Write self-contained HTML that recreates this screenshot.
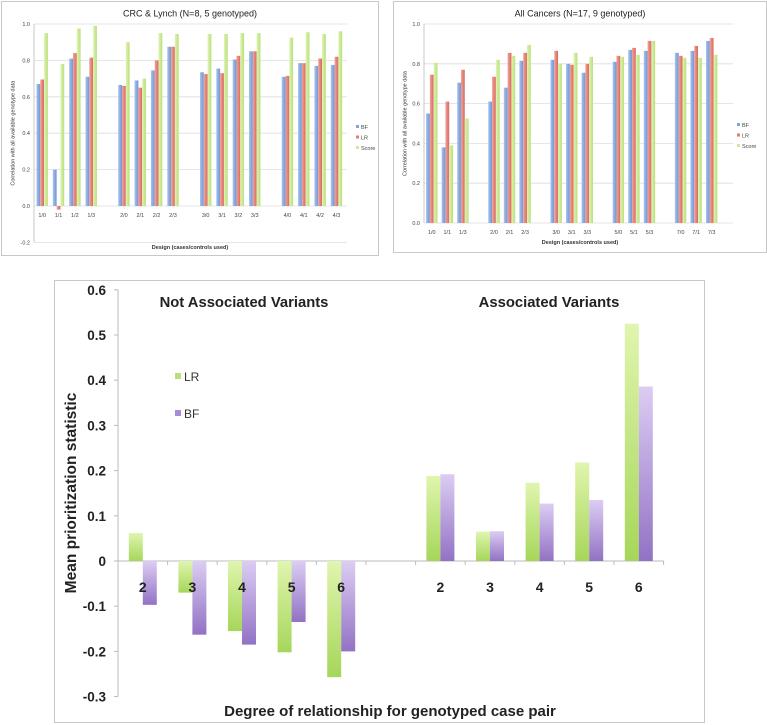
<!DOCTYPE html>
<html><head><meta charset="utf-8"><style>
body{margin:0;background:#fff;width:767px;height:725px;overflow:hidden;font-family:"Liberation Sans",sans-serif}
svg{position:absolute;left:0;top:0}
</style></head><body>
<svg id="s" width="767" height="725" xmlns="http://www.w3.org/2000/svg">
<defs>
<linearGradient id="gBF" x1="0" y1="0" x2="1" y2="0"><stop offset="0" stop-color="#a9c3ec"/><stop offset="1" stop-color="#6f95d6"/></linearGradient>
<linearGradient id="gLR" x1="0" y1="0" x2="1" y2="0"><stop offset="0" stop-color="#f1a49b"/><stop offset="1" stop-color="#d9685e"/></linearGradient>
<linearGradient id="gSC" x1="0" y1="0" x2="1" y2="0"><stop offset="0" stop-color="#dff4b4"/><stop offset="1" stop-color="#b9df7a"/></linearGradient>
<linearGradient id="gG" x1="0" y1="0" x2="0" y2="1"><stop offset="0" stop-color="#e0f5ae"/><stop offset="1" stop-color="#a6d65a"/></linearGradient>
<linearGradient id="gP" x1="0" y1="0" x2="0" y2="1"><stop offset="0" stop-color="#dccdf3"/><stop offset="1" stop-color="#9272c4"/></linearGradient>
</defs>
</svg>
<script>
// ---- Chart 1: CRC & Lynch ----
const c1Cats=["1/0","1/1","1/2","1/3","","2/0","2/1","2/2","2/3","","3/0","3/1","3/2","3/3","","4/0","4/1","4/2","4/3"];
const c1BF=[0.67,0.20,0.81,0.71,null,0.665,0.69,0.745,0.875,null,0.735,0.755,0.805,0.85,null,0.71,0.785,0.77,0.775];
const c1LR=[0.695,-0.02,0.84,0.815,null,0.66,0.65,0.80,0.875,null,0.725,0.73,0.825,0.85,null,0.715,0.785,0.81,0.82];
const c1SC=[0.95,0.78,0.975,0.99,null,0.90,0.70,0.95,0.945,null,0.945,0.945,0.95,0.95,null,0.925,0.955,0.945,0.96];
const c1Ticks=[-0.2,0,0.2,0.4,0.6,0.8,1.0];
// ---- Chart 2: All Cancers ----
const c2Cats=["1/0","1/1","1/3","","2/0","2/1","2/3","","3/0","3/1","3/3","","5/0","5/1","5/3","","7/0","7/1","7/3"];
const c2BF=[0.55,0.38,0.705,null,0.61,0.68,0.815,null,0.82,0.80,0.755,null,0.81,0.87,0.865,null,0.855,0.865,0.915];
const c2LR=[0.745,0.61,0.77,null,0.735,0.855,0.855,null,0.865,0.795,0.80,null,0.84,0.88,0.915,null,0.84,0.89,0.93];
const c2SC=[0.805,0.39,0.525,null,0.82,0.84,0.895,null,0.80,0.855,0.835,null,0.835,0.845,0.915,null,0.83,0.83,0.845];
const c2Ticks=[0,0.2,0.4,0.6,0.8,1.0];
// ---- Chart 3: Mean prioritization ----
const c3Cats=["2","3","4","5","6","","2","3","4","5","6"];
const c3LR=[0.062,-0.07,-0.155,-0.202,-0.257,null,0.188,0.065,0.173,0.218,0.525];
const c3BF=[-0.097,-0.163,-0.185,-0.135,-0.2,null,0.192,0.066,0.127,0.135,0.386];
const c3Ticks=[-0.3,-0.2,-0.1,0,0.1,0.2,0.3,0.4,0.5,0.6];

const NS="http://www.w3.org/2000/svg";
const svg=document.getElementById('s');
function mk(tag,attrs,parent,text){const e=document.createElementNS(NS,tag);for(const k in attrs)e.setAttribute(k,attrs[k]);if(text!==undefined)e.textContent=text;(parent||svg).appendChild(e);return e;}
function fmt1(v){return v.toFixed(1);}

function smallChart(o){
  const g=mk('g',{});
  
  
  const fr=mk('rect',{x:o.bx,y:o.by,width:o.bw,height:o.bh,fill:'#fff',stroke:'#c8c8c8','stroke-width':1},g);
  
  
  const y=v=>o.y0-(v*(o.y0-o.y1));
  const sw=o.slot;
  o.ticks.forEach(t=>{
    const gl=mk('line',{x1:o.px,x2:o.gx2,y1:y(t),y2:y(t),stroke:'#dedede','stroke-width':0.8},g);
    
    
    const tl=mk('text',{x:o.px-4,y:y(t)+2,'font-size':5.5,'text-anchor':'end',fill:'#444'},g,fmt1(t));
    
    
  });
  mk('line',{x1:o.px,x2:o.px,y1:y(o.ticks[o.ticks.length-1]),y2:y(o.ticks[0]),stroke:'#bbb','stroke-width':0.8},g);
  const bw=o.barW;
  const series=[[o.bf,'url(#gBF)','bar-bf'],[o.lr,'url(#gLR)','bar-lr'],[o.sc,'url(#gSC)','bar-score']];
  o.cats.forEach((c,i)=>{
    const cx=o.px+sw*(i+0.5);
    if(c){
      const cl=mk('text',{x:cx,y:o.labY,'font-size':5.5,'text-anchor':'middle',fill:'#444'},g,c);
      
      
    }
    series.forEach((s,j)=>{
      const v=s[0][i]; if(v===null)return;
      const x=cx-1.5*bw+j*bw;
      const top=Math.min(y(v),y(0)),h=Math.abs(y(v)-y(0));
      const r=mk('rect',{x:x,y:top,width:bw,height:Math.max(h,0.5),fill:s[1]},g);
      
      
    });
  });
  const tt=mk('text',{x:o.titleX,y:o.by+15,'font-size':9,'text-anchor':'middle',fill:'#222'},g,o.title);
  
  
  const xt=mk('text',{x:o.titleX,y:o.xtY,'font-size':5.5,'font-weight':'bold','text-anchor':'middle',fill:'#333'},g,'Design (cases/controls used)');
  
  
  const yt=mk('text',{x:0,y:0,'font-size':5.5,'text-anchor':'middle',fill:'#333',transform:`translate(${o.bx+13},${(y(o.ticks[o.ticks.length-1])+y(o.ticks[0]))/2}) rotate(-90)`},g,'Correlation with all available genotype data');
  
  
  [['BF','#7fa3dc'],['LR','#e27a70'],['Score','#cde99a']].forEach((l,k)=>{
    const ly=o.legY+k*10.5;
    const sq=mk('rect',{x:o.legX,y:ly-3,width:3,height:3,fill:l[1]},g);
    
    
    const lt=mk('text',{x:o.legX+5,y:ly+1,'font-size':5.5,fill:'#444'},g,l[0]);
    
    
  });
}
smallChart({name:'crc-lynch-chart',bx:1.5,by:1.5,bw:377,bh:254,px:34,gx2:347,y0:206,y1:24,slot:16.35,barW:3.8,
  cats:c1Cats,bf:c1BF,lr:c1LR,sc:c1SC,ticks:c1Ticks,labY:217,xtY:249,titleX:190,legX:356,legY:128,
  title:'CRC & Lynch (N=8, 5 genotyped)'});
smallChart({name:'all-cancers-chart',bx:393.5,by:1.5,bw:373,bh:251,px:424,gx2:733,y0:223,y1:24,slot:15.55,barW:3.8,
  cats:c2Cats,bf:c2BF,lr:c2LR,sc:c2SC,ticks:c2Ticks,labY:234,xtY:244,titleX:580,legX:737,legY:126,
  title:'All Cancers (N=17, 9 genotyped)'});

// ---- Big chart ----
const G=mk('g',{});


const bfr=mk('rect',{x:54.5,y:280.5,width:650,height:442,fill:'#fff',stroke:'#c8c8c8','stroke-width':1},G);


const AX=118, Y0=561, PER=45.2, SLOT=49.6;
const yb=v=>Y0-v/0.1*PER;
mk('line',{x1:AX,x2:AX,y1:yb(0.6),y2:yb(-0.3),stroke:'#bbb','stroke-width':1},G);
c3Ticks.forEach(t=>{
  mk('line',{x1:AX-4,x2:AX,y1:yb(t),y2:yb(t),stroke:'#bbb'},G);
  const tl=mk('text',{x:AX-12,y:yb(t)+5,'font-size':13.5,'font-weight':'bold','text-anchor':'end',fill:'#222'},G,t===0?'0':(Math.round(t*10)/10).toString());
  
  
});
mk('line',{x1:AX,x2:AX+SLOT*c3Cats.length,y1:Y0,y2:Y0,stroke:'#bbb','stroke-width':1},G);
for(let i=0;i<=c3Cats.length;i++){mk('line',{x1:AX+SLOT*i,x2:AX+SLOT*i,y1:Y0,y2:Y0+4,stroke:'#bbb'},G);}
c3Cats.forEach((c,i)=>{
  const cx=AX+SLOT*(i+0.5);
  [[c3LR,'url(#gG)','bar-lr',-14],[c3BF,'url(#gP)','bar-bf',0]].forEach(s=>{
    const v=s[0][i]; if(v===null)return;
    const top=Math.min(yb(v),Y0),h=Math.abs(yb(v)-Y0);
    const r=mk('rect',{x:cx+s[3],y:top,width:14,height:h,fill:s[1]},G);
    
    
  });
  if(c){
    const cl=mk('text',{x:cx,y:592,'font-size':14,'font-weight':'bold','text-anchor':'middle',fill:'#222'},G,c);
    
    
  }
});
const t1=mk('text',{x:244,y:307,'font-size':14.8,'font-weight':'bold','text-anchor':'middle',fill:'#222'},G,'Not Associated Variants');


const t2=mk('text',{x:549,y:307,'font-size':14.8,'font-weight':'bold','text-anchor':'middle',fill:'#222'},G,'Associated Variants');


const xt=mk('text',{x:390,y:716,'font-size':15,'font-weight':'bold','text-anchor':'middle',fill:'#222'},G,'Degree of relationship for genotyped case pair');


const yt=mk('text',{x:0,y:0,'font-size':15.5,'font-weight':'bold','text-anchor':'middle',fill:'#222',transform:'translate(76,493) rotate(-90)'},G,'Mean prioritization statistic');


[['LR','#b8e07a',377],['BF','#a98ad4',414]].forEach(l=>{
  const sq=mk('rect',{x:175,y:l[2]-4,width:6,height:6,fill:l[1]},G);
  
  
  const lt=mk('text',{x:184,y:l[2]+4,'font-size':12,fill:'#333'},G,l[0]);
  
  
});
</script>
</body></html>
